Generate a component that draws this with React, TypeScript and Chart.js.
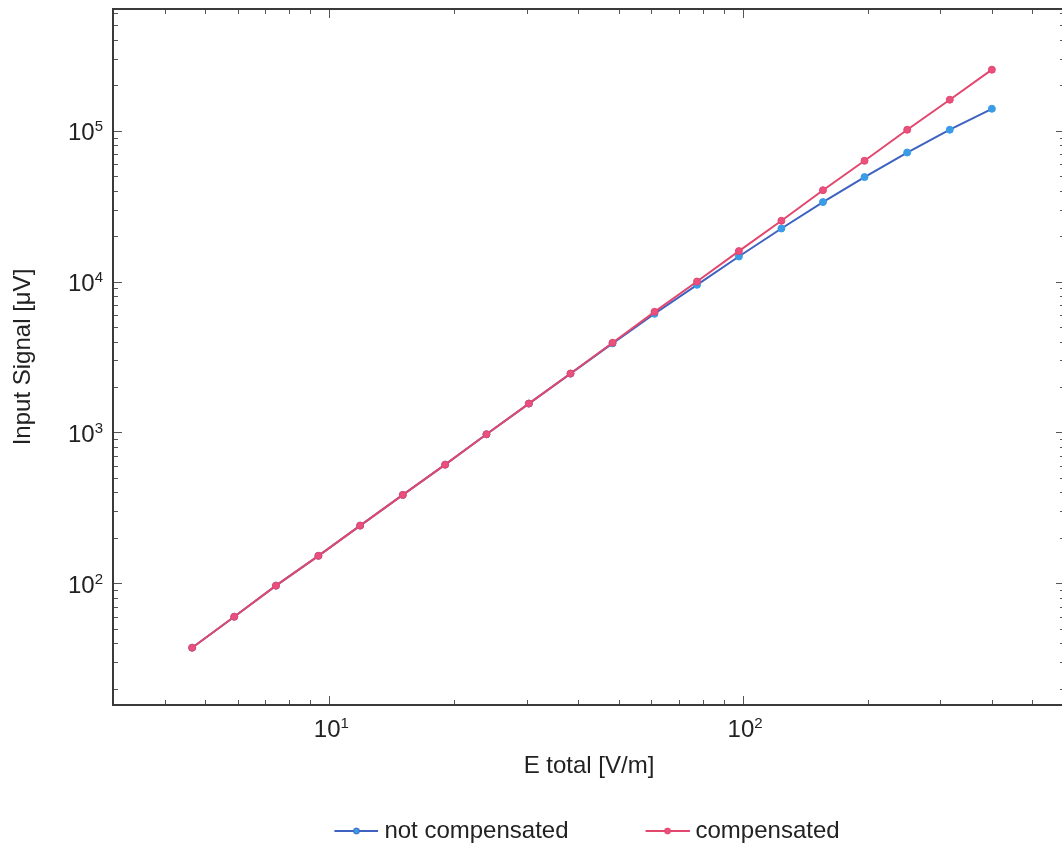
import React, { useEffect, useRef } from "react";
import { Chart, registerables } from "chart.js";

Chart.register(...registerables);

// ---- data ----
const E_TOTAL = [4.66, 5.89, 7.43, 9.41, 11.87, 15.05, 19.05, 23.98, 30.36, 38.28, 48.37, 61.1, 77.4, 97.7, 123.8, 156, 196.6, 249.3, 316, 399.4];
const NOT_COMPENSATED = [37.4, 60.0, 96.4, 152, 241, 385, 611, 972, 1552, 2450, 3890, 6110, 9510, 14650, 22460, 33620, 49200, 71600, 101400, 139600];
const COMPENSATED = [37.4, 60.0, 96.4, 152, 241, 385, 611, 972, 1552, 2455, 3925, 6295, 10000, 15910, 25270, 40270, 63100, 101400, 160300, 253500];
const SERIES_LABELS = ["not compensated", "compensated"];

const X_MIN = 3;
const X_MAX = 600;
const Y_MIN = 15.6;
const Y_MAX = 640000;
const X_TICK_DECADES = [1, 10, 100];
const Y_TICK_DECADES = [10, 100, 1000, 10000, 100000];
const X_LABEL_EXPONENTS = [1, 2];
const Y_LABEL_EXPONENTS = [2, 3, 4, 5];
const X_TITLE = "E total [V/m]";
const Y_TITLE = "Input Signal [\u03bcV]";

const FONT = '"Liberation Sans", Arial, Helvetica, sans-serif';
const BLUE_LINE = "#3d62c2";
const BLUE_PT = "#3a9be6";
const RED_LINE = "#e2476e";
const RED_PT = "#ea4f7e";
const TEXT = "#222";

function makeLegendImage(lineColor: string, ptColor: string) {
  const c = document.createElement("canvas");
  c.width = 46;
  c.height = 12;
  const g = c.getContext("2d")!;
  g.strokeStyle = lineColor;
  g.lineWidth = 2;
  g.beginPath();
  g.moveTo(2, 6);
  g.lineTo(46, 6);
  g.stroke();
  g.fillStyle = ptColor;
  g.strokeStyle = lineColor;
  g.lineWidth = 1;
  g.beginPath();
  g.arc(24, 6, 3, 0, Math.PI * 2);
  g.fill();
  g.stroke();
  return c;
}

const framePlugin = {
  id: "frame",
  afterDraw(chart: any) {
    const { ctx, chartArea } = chart;
    const { left, right, top, bottom } = chartArea;
    const xs = chart.scales.x;
    const ys = chart.scales.y;
    ctx.save();
    // minor/major tick marks (inward, mirrored)
    ctx.strokeStyle = "#555";
    ctx.lineWidth = 1;
    ctx.beginPath();
    for (const d of X_TICK_DECADES) {
      for (let m = 1; m <= 9; m++) {
        const v = m * d;
        if (v < X_MIN || v > X_MAX) continue;
        const len = m === 1 ? 9 : 5;
        const px = Math.round(xs.getPixelForValue(v)) + 0.5;
        ctx.moveTo(px, bottom);
        ctx.lineTo(px, bottom - len);
        ctx.moveTo(px, top);
        ctx.lineTo(px, top + len);
      }
    }
    for (const d of Y_TICK_DECADES) {
      for (let m = 1; m <= 9; m++) {
        const v = m * d;
        if (v < Y_MIN || v > Y_MAX) continue;
        const len = m === 1 ? 9 : 5;
        const py = Math.round(ys.getPixelForValue(v)) + 0.5;
        ctx.moveTo(left, py);
        ctx.lineTo(left + len, py);
        ctx.moveTo(right, py);
        ctx.lineTo(right - len, py);
      }
    }
    ctx.stroke();

    // frame
    ctx.strokeStyle = "#3a3a3a";
    ctx.lineWidth = 2;
    ctx.strokeRect(left, top, right - left, bottom - top);

    // tick labels 10^n
    ctx.fillStyle = TEXT;
    ctx.textBaseline = "alphabetic";
    ctx.textAlign = "left";
    const big = `24px ${FONT}`;
    const small = `15px ${FONT}`;
    const measure = (exp: number) => {
      ctx.font = big;
      const w1 = ctx.measureText("10").width;
      ctx.font = small;
      const w2 = ctx.measureText(String(exp)).width;
      return [w1, w2];
    };
    const drawPow = (exp: number, x0: number, base: number, w1: number) => {
      ctx.font = big;
      ctx.fillText("10", x0, base);
      ctx.font = small;
      ctx.fillText(String(exp), x0 + w1, base - 9);
    };
    for (const e of X_LABEL_EXPONENTS) {
      const px = xs.getPixelForValue(Math.pow(10, e));
      const [w1, w2] = measure(e);
      drawPow(e, px + 2 - (w1 + w2) / 2, bottom + 32, w1);
    }
    for (const e of Y_LABEL_EXPONENTS) {
      const py = ys.getPixelForValue(Math.pow(10, e));
      const [w1, w2] = measure(e);
      drawPow(e, left - 10 - (w1 + w2), py + 9.5, w1);
    }

    // axis titles
    ctx.font = big;
    ctx.textAlign = "center";
    ctx.fillText(X_TITLE, (left + right) / 2, bottom + 68);
    ctx.translate(30, (top + bottom) / 2);
    ctx.rotate(-Math.PI / 2);
    ctx.fillText(Y_TITLE, 0, 0);
    ctx.restore();
  },
};

export default function App() {
  const ref = useRef<HTMLCanvasElement>(null);
  useEffect(() => {
    const canvas = ref.current!;
    const imgBlue = makeLegendImage(BLUE_LINE, BLUE_PT);
    const imgRed = makeLegendImage(RED_LINE, RED_PT);
    const chart = new Chart(canvas, {
      type: "line",
      data: {
        datasets: [
          {
            label: SERIES_LABELS[0],
            data: E_TOTAL.map((e, i) => ({ x: e, y: NOT_COMPENSATED[i] })),
            borderColor: BLUE_LINE,
            backgroundColor: BLUE_PT,
            pointBackgroundColor: BLUE_PT,
            pointBorderColor: BLUE_PT,
            pointRadius: 3.5,
            pointBorderWidth: 1,
            borderWidth: 2,
            tension: 0,
            order: 1,
          },
          {
            label: SERIES_LABELS[1],
            data: E_TOTAL.map((e, i) => ({ x: e, y: COMPENSATED[i] })),
            borderColor: RED_LINE,
            backgroundColor: RED_PT,
            pointBackgroundColor: RED_PT,
            pointBorderColor: RED_LINE,
            pointRadius: 3.5,
            pointBorderWidth: 1,
            borderWidth: 2,
            tension: 0,
            order: 0,
          },
        ],
      },
      options: {
        animation: false,
        responsive: false,
        devicePixelRatio: 1,
        events: [],
        layout: { padding: { top: 9, right: 5, left: 0, bottom: 0 } },
        scales: {
          x: {
            type: "logarithmic",
            min: X_MIN,
            max: X_MAX,
            grid: { display: false },
            border: { display: false },
            ticks: { display: false },
            afterFit: (s: any) => {
              s.height = 33;
            },
          },
          y: {
            type: "logarithmic",
            min: Y_MIN,
            max: Y_MAX,
            grid: { display: false },
            border: { display: false },
            ticks: { display: false },
            afterFit: (s: any) => {
              s.width = 113;
            },
          },
        },
        plugins: {
          tooltip: { enabled: false },
          legend: {
            position: "bottom",
            fullSize: false,
            labels: {
              usePointStyle: true,
              pointStyleWidth: 34,
              padding: 81,
              color: TEXT,
              font: { family: FONT, size: 24 },
              generateLabels: (ch: any) =>
                ch.data.datasets.map((ds: any, i: number) => ({
                  text: ds.label,
                  pointStyle: i === 0 ? imgBlue : imgRed,
                  fillStyle: ds.backgroundColor,
                  strokeStyle: ds.borderColor,
                  lineWidth: 0,
                  hidden: false,
                  datasetIndex: i,
                  fontColor: TEXT,
                })),
            },
          },
        },
      },
      plugins: [framePlugin],
    } as any);
    return () => chart.destroy();
  }, []);
  return (
    <div
      style={{
        position: "fixed",
        left: 0,
        top: 0,
        width: 1062,
        height: 848,
        overflow: "hidden",
        background: "#fff",
      }}
    >
      <canvas ref={ref} width={1070} height={853} style={{ display: "block" }} />
    </div>
  );
}
